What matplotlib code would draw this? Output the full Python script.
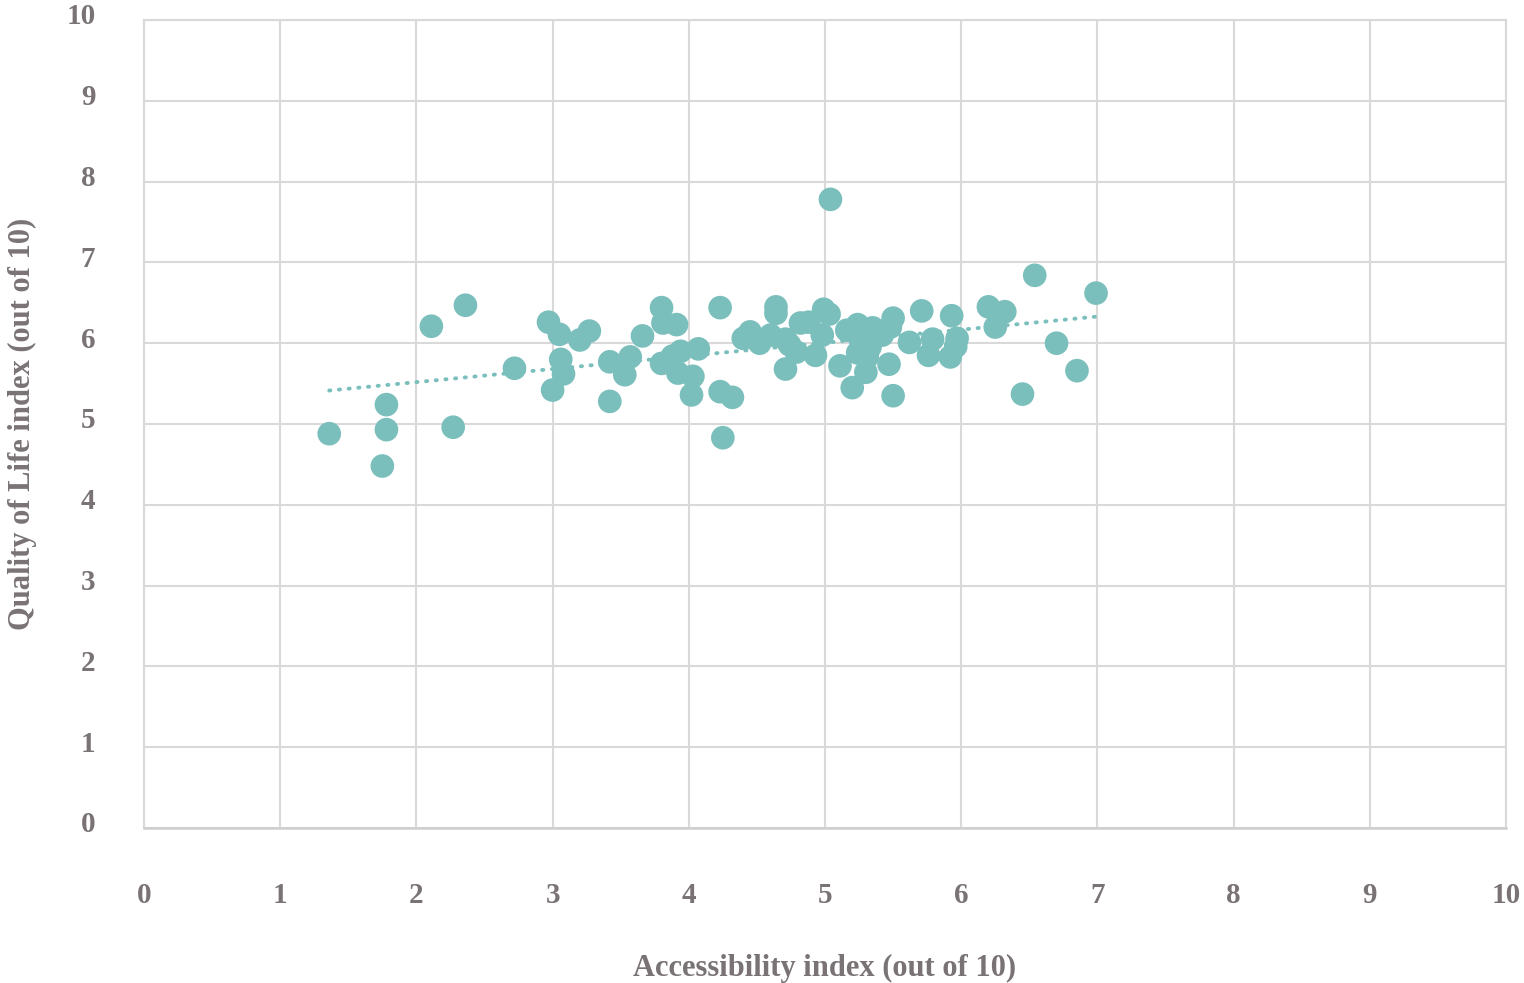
import numpy as np
import matplotlib.pyplot as plt
import matplotlib.transforms as mtransforms

# accessibility index (x) and quality of life index (y)
access = [1.36, 1.75, 1.78, 1.78, 2.11, 2.27, 2.36, 2.72, 2.97, 3.00,
          3.05, 3.06, 3.08, 3.20, 3.27, 3.42, 3.42, 3.53, 3.57, 3.66,
          3.80, 3.81, 3.80, 3.91, 3.88, 3.94, 3.92, 4.03, 4.02, 4.07,
          4.23, 4.23, 4.32, 4.25, 4.40, 4.45, 4.52, 4.60, 4.64, 4.64,
          4.71, 4.74, 4.79, 4.71, 4.82, 4.88, 4.93, 4.99, 5.03, 4.98,
          5.04, 5.16, 5.24, 5.35, 5.11, 5.20, 5.24, 5.31, 5.30, 5.33,
          5.26, 5.26, 5.42, 5.48, 5.50, 5.47, 5.50, 5.71, 5.62, 5.79,
          5.76, 5.93, 5.97, 5.92, 5.96, 6.20, 6.32, 6.25, 6.54, 6.70,
          6.45, 6.85, 6.99]
qol = [4.88, 4.48, 5.24, 4.93, 6.21, 4.96, 6.47, 5.69, 6.26, 5.42,
       6.11, 5.80, 5.62, 6.04, 6.15, 5.28, 5.77, 5.61, 5.83, 6.09,
       6.44, 6.25, 5.75, 6.23, 5.84, 5.90, 5.63, 5.59, 5.36, 5.93,
       6.44, 5.40, 5.33, 4.83, 6.06, 6.14, 6.00, 6.10, 6.45, 6.37,
       6.05, 5.98, 5.89, 5.68, 6.25, 6.26, 5.85, 6.42, 6.36, 6.10,
       7.78, 6.16, 6.23, 6.19, 5.72, 5.45, 5.88, 5.83, 5.64, 5.95,
       6.04, 5.88, 6.10, 6.20, 6.31, 5.74, 5.35, 6.40, 6.01, 6.05,
       5.85, 6.34, 6.06, 5.83, 5.96, 6.45, 6.39, 6.20, 6.84, 6.00,
       5.37, 5.66, 6.62]

ticks = list(range(0, 11))

teal = '#7bbfbd'
grey = '#7a7375'
grid = '#d9d9d9'

plt.rcParams['font.family'] = ['Liberation Serif', 'DejaVu Serif']
plt.rcParams['font.weight'] = 'bold'

fig = plt.figure(figsize=(15.24, 9.83), dpi=100)
ax = fig.add_axes([144 / 1524, 1 - 828 / 983, (1506 - 144) / 1524, (828 - 20) / 983])

ax.scatter(access, qol, s=290, color=teal, edgecolors='none', zorder=3)

# linear trendline
m, b = np.polyfit(access, qol, 1)
xs = np.array([min(access), max(access)])
ax.plot(xs, m * xs + b, color=teal, lw=2.8, linestyle=(0, (0.3, 2.2)),
        dash_capstyle='round', zorder=2)

ax.set_xlim(0, 10)
ax.set_ylim(0, 10)
ax.set_xticks(ticks)
ax.set_yticks(ticks)
ax.grid(True, color=grid, lw=1.5, zorder=0)
ax.set_axisbelow(True)
for side in ['top', 'right', 'left']:
    ax.spines[side].set_color(grid)
    ax.spines[side].set_linewidth(1.5)
ax.spines['bottom'].set_color('#cfcfcf')
ax.spines['bottom'].set_linewidth(1.8)
ax.tick_params(length=0, colors=grey, labelsize=21)
ax.tick_params(axis='x', pad=39)
ax.tick_params(axis='y', pad=35)

# y labels sit a little above their gridlines
shift = mtransforms.ScaledTranslation(0, 6 / 100, fig.dpi_scale_trans)
for lab in ax.get_yticklabels():
    lab.set_transform(lab.get_transform() + shift)

ax.set_xlabel('Accessibility index (out of 10)', fontsize=22, color=grey,
              fontweight='bold', va='center')
ax.set_ylabel('Quality of Life index (out of 10)', fontsize=22, color=grey,
              fontweight='bold', va='center')
ax.xaxis.set_label_coords(0.5, -140 / 808)
ax.yaxis.set_label_coords(-122 / 1362, 0.5)

fig.savefig('out.png', dpi=100)
